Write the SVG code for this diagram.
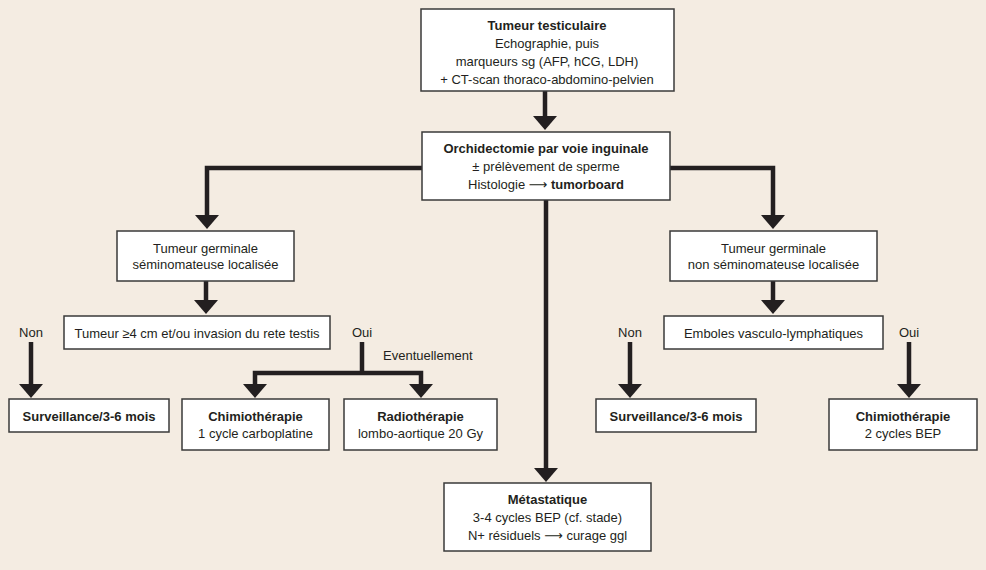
<svg xmlns="http://www.w3.org/2000/svg" width="986" height="570" viewBox="0 0 986 570">
<defs>
<marker id="ah" markerUnits="userSpaceOnUse" markerWidth="14" markerHeight="24" viewBox="0 0 14 24" refX="6" refY="12" orient="auto">
<path d="M0,0 L14,12 L0,24 Z" fill="#231f20"/>
</marker>
<style>
.bg{fill:#f4ece2}
.box{fill:#ffffff;stroke:#3a3a3a;stroke-width:1.5}
text{font-family:"Liberation Sans","DejaVu Sans",sans-serif;font-size:13px;fill:#231f20;text-anchor:middle}
.b{font-weight:bold}
.l{text-anchor:start}
.c{fill:none;stroke:#231f20;stroke-width:4.5;stroke-linejoin:miter;marker-end:url(#ah)}
.c2{fill:none;stroke:#231f20;stroke-width:4.5}
</style>
</defs>
<rect class="bg" x="0" y="0" width="986" height="570"/>

<g id="connectors">
<path class="c" d="M545,91 V122"/>
<path class="c" d="M422,168 H207 V221"/>
<path class="c" d="M670,168 H773 V221"/>
<path class="c" d="M546,200 V474"/>
<path class="c" d="M206,281 V306"/>
<path class="c" d="M31,342 V390"/>
<path class="c2" d="M362,342 V373"/>
<path class="c" d="M362,373 H255 V390"/>
<path class="c" d="M362,373 H421 V390"/>
<path class="c" d="M773,281 V306"/>
<path class="c" d="M630,342 V390"/>
<path class="c" d="M909,342 V390"/>
</g>

<g id="labels">
<text x="31" y="337">Non</text>
<text x="362" y="337">Oui</text>
<text class="l" x="383" y="360">Eventuellement</text>
<text x="630" y="337">Non</text>
<text x="909" y="337">Oui</text>
</g>

<g id="n-top">
<rect class="box" x="421" y="9" width="253" height="82"/>
<text class="b" x="547" y="30">Tumeur testiculaire</text>
<text x="547" y="48">Echographie, puis</text>
<text x="547" y="66">marqueurs sg (AFP, hCG, LDH)</text>
<text x="547" y="84">+ CT-scan thoraco-abdomino-pelvien</text>
</g>

<g id="n-orch">
<rect class="box" x="422" y="132" width="248" height="68"/>
<text class="b" x="546" y="153">Orchidectomie par voie inguinale</text>
<text x="546" y="171">± prélèvement de sperme</text>
<text x="546" y="189">Histologie ⟶ <tspan class="b">tumorboard</tspan></text>
</g>

<g id="n-sem">
<rect class="box" x="117" y="231" width="177" height="50"/>
<text x="205.5" y="253">Tumeur germinale</text>
<text x="205.5" y="269">séminomateuse localisée</text>
</g>

<g id="n-tumeur4">
<rect class="box" x="64" y="316" width="266" height="33"/>
<text x="197" y="338">Tumeur ≥4 cm et/ou invasion du rete testis</text>
</g>

<g id="n-surv1">
<rect class="box" x="9" y="399" width="160" height="33"/>
<text class="b" x="89" y="421">Surveillance/3-6 mois</text>
</g>

<g id="n-chimio1">
<rect class="box" x="182" y="399" width="147" height="51"/>
<text class="b" x="255.5" y="421">Chimiothérapie</text>
<text x="255.5" y="438">1 cycle carboplatine</text>
</g>

<g id="n-radio">
<rect class="box" x="344" y="399" width="153" height="51"/>
<text class="b" x="420.5" y="421">Radiothérapie</text>
<text x="420.5" y="438">lombo-aortique 20 Gy</text>
</g>

<g id="n-nonsem">
<rect class="box" x="670" y="231" width="207" height="50"/>
<text x="773.5" y="253">Tumeur germinale</text>
<text x="773.5" y="269">non séminomateuse localisée</text>
</g>

<g id="n-emboles">
<rect class="box" x="664" y="316" width="219" height="33"/>
<text x="773.5" y="338">Emboles vasculo-lymphatiques</text>
</g>

<g id="n-surv2">
<rect class="box" x="596" y="399" width="160" height="33"/>
<text class="b" x="676" y="421">Surveillance/3-6 mois</text>
</g>

<g id="n-chimio2">
<rect class="box" x="829" y="399" width="148" height="51"/>
<text class="b" x="903" y="421">Chimiothérapie</text>
<text x="903" y="438">2 cycles BEP</text>
</g>

<g id="n-meta">
<rect class="box" x="444" y="483" width="207" height="68"/>
<text class="b" x="547.5" y="504">Métastatique</text>
<text x="547.5" y="522">3-4 cycles BEP (cf. stade)</text>
<text x="547.5" y="540">N+ résiduels ⟶ curage ggl</text>
</g>
</svg>
